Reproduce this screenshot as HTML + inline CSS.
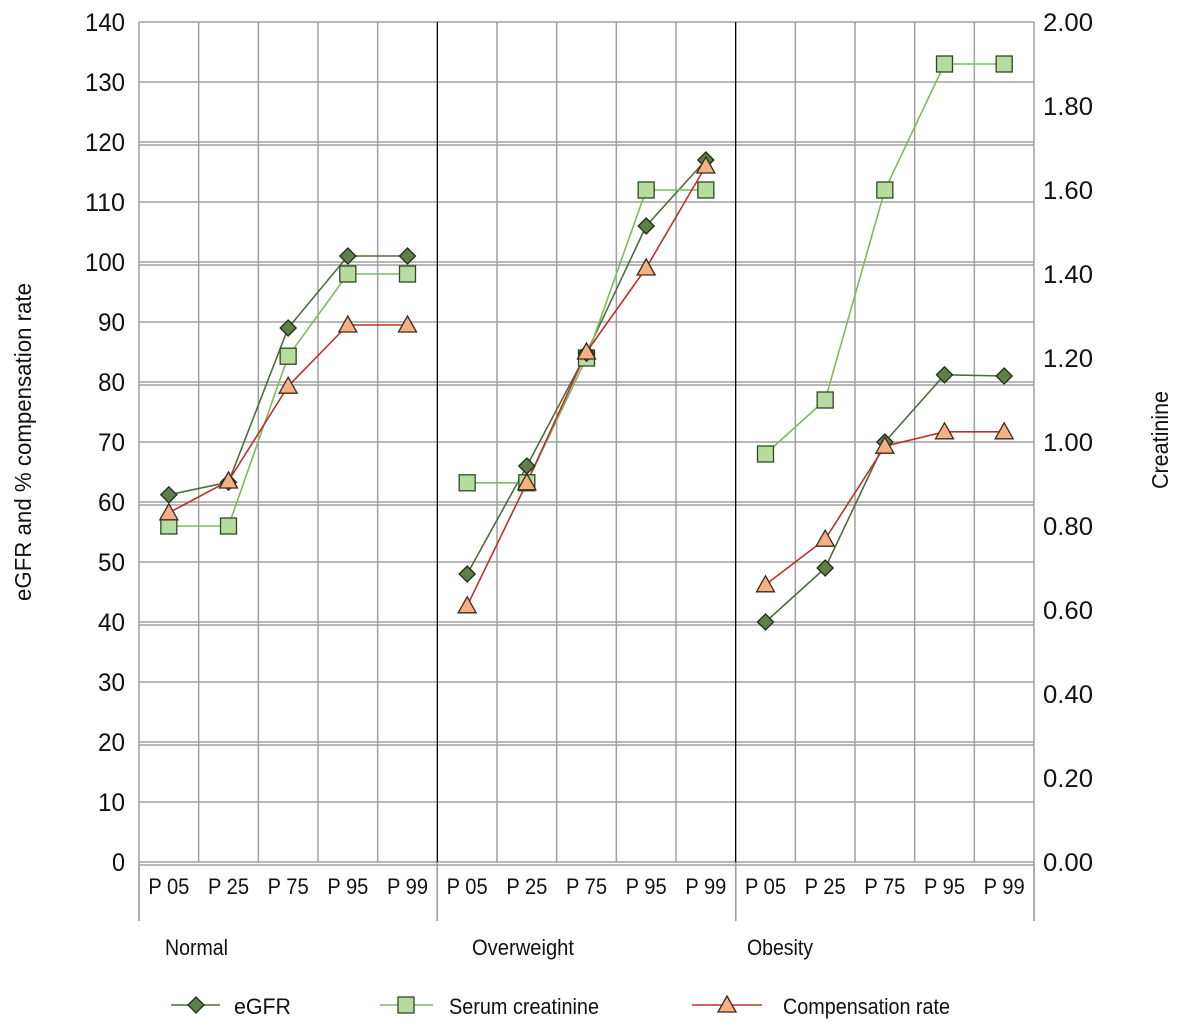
<!DOCTYPE html>
<html><head><meta charset="utf-8"><style>
body{margin:0;background:#fff}
svg text{font-family:"Liberation Sans Narrow","Liberation Sans",sans-serif;fill:#111}
</style></head><body>
<svg id="s" width="1181" height="1024" viewBox="0 0 1181 1024" xmlns="http://www.w3.org/2000/svg">
<g id="grid" stroke="#a0a0a0" stroke-width="1.5"></g>
<g font-size="25" text-anchor="end" lengthAdjust="spacingAndGlyphs">
<text x="125" y="31" textLength="40" lengthAdjust="spacingAndGlyphs">140</text><text x="125" y="91" textLength="40" lengthAdjust="spacingAndGlyphs">130</text><text x="125" y="151" textLength="40" lengthAdjust="spacingAndGlyphs">120</text><text x="125" y="211" textLength="40" lengthAdjust="spacingAndGlyphs">110</text><text x="125" y="271" textLength="40" lengthAdjust="spacingAndGlyphs">100</text><text x="125" y="331" textLength="27" lengthAdjust="spacingAndGlyphs">90</text><text x="125" y="391" textLength="27" lengthAdjust="spacingAndGlyphs">80</text><text x="125" y="451" textLength="27" lengthAdjust="spacingAndGlyphs">70</text><text x="125" y="511" textLength="27" lengthAdjust="spacingAndGlyphs">60</text><text x="125" y="571" textLength="27" lengthAdjust="spacingAndGlyphs">50</text><text x="125" y="631" textLength="27" lengthAdjust="spacingAndGlyphs">40</text><text x="125" y="691" textLength="27" lengthAdjust="spacingAndGlyphs">30</text><text x="125" y="751" textLength="27" lengthAdjust="spacingAndGlyphs">20</text><text x="125" y="811" textLength="27" lengthAdjust="spacingAndGlyphs">10</text><text x="125" y="871" textLength="13" lengthAdjust="spacingAndGlyphs">0</text>
</g>
<g font-size="25" text-anchor="start">
<text x="1043" y="31" textLength="50" lengthAdjust="spacingAndGlyphs">2.00</text><text x="1043" y="115" textLength="50" lengthAdjust="spacingAndGlyphs">1.80</text><text x="1043" y="199" textLength="50" lengthAdjust="spacingAndGlyphs">1.60</text><text x="1043" y="283" textLength="50" lengthAdjust="spacingAndGlyphs">1.40</text><text x="1043" y="367" textLength="50" lengthAdjust="spacingAndGlyphs">1.20</text><text x="1043" y="451" textLength="50" lengthAdjust="spacingAndGlyphs">1.00</text><text x="1043" y="535" textLength="50" lengthAdjust="spacingAndGlyphs">0.80</text><text x="1043" y="619" textLength="50" lengthAdjust="spacingAndGlyphs">0.60</text><text x="1043" y="703" textLength="50" lengthAdjust="spacingAndGlyphs">0.40</text><text x="1043" y="787" textLength="50" lengthAdjust="spacingAndGlyphs">0.20</text><text x="1043" y="871" textLength="50" lengthAdjust="spacingAndGlyphs">0.00</text>
</g>
<text font-size="23" transform="translate(31,442) rotate(-90)" text-anchor="middle" textLength="318" lengthAdjust="spacingAndGlyphs">eGFR and % compensation rate</text>
<text font-size="23" transform="translate(1168,440) rotate(-90)" text-anchor="middle" textLength="98" lengthAdjust="spacingAndGlyphs">Creatinine</text>
<g id="xl" font-size="22" text-anchor="middle"></g>
<g font-size="22">
<text x="165" y="955" textLength="63" lengthAdjust="spacingAndGlyphs">Normal</text><text x="472" y="955" textLength="102" lengthAdjust="spacingAndGlyphs">Overweight</text><text x="747" y="955" textLength="66" lengthAdjust="spacingAndGlyphs">Obesity</text>
<text x="234" y="1014" textLength="57" lengthAdjust="spacingAndGlyphs">eGFR</text><text x="449" y="1014" textLength="150" lengthAdjust="spacingAndGlyphs">Serum creatinine</text><text x="783" y="1014" textLength="167" lengthAdjust="spacingAndGlyphs">Compensation rate</text>
</g>
<g id="d"></g>
</svg>
<script>
const NS="http://www.w3.org/2000/svg",g=document.getElementById('grid'),d=document.getElementById('d'),xl=document.getElementById('xl');
function el(p,t,a){const e=document.createElementNS(NS,t);for(const k in a)e.setAttribute(k,a[k]);p.appendChild(e);return e}
const L=139,R=1034,W=(R-L)/15,Y=v=>862-6*v;
for(let v=0;v<=140;v+=10){el(g,'line',{x1:L,x2:R,y1:Y(v),y2:Y(v)});if(v%20==0&&v<140)el(g,'line',{x1:L,x2:R,y1:Y(v)+3,y2:Y(v)+3})}
for(let i=0;i<=15;i++){const x=L+W*i;const sep=i%5==0;el(g,'line',{x1:x,x2:x,y1:22,y2:sep?921:862,stroke:(sep&&i>0&&i<15)?'#000':'#a0a0a0','stroke-width':sep&&i>0&&i<15?1.3:1.5});
if(sep)el(g,'line',{x1:x,x2:x,y1:862,y2:921})}
const labs=['P 05','P 25','P 75','P 95','P 99'];
const cx=i=>L+W*(i+0.5);
for(let i=0;i<15;i++){const t=el(xl,'text',{x:cx(i),y:894,textLength:41,lengthAdjust:'spacingAndGlyphs'});t.textContent=labs[i%5]}
const eg=[[61.2,63.3,89,101,101],[48,66,84.8,106,117],[40,49,70,81.2,81]];
const cr=[[56,56,84.3,98,98],[63.2,63.2,84,112,112],[68,77,112,133,133]];
const cp=[[58.2,63.5,79.3,89.5,89.5],[42.7,63.2,85,99,116],[46.2,53.8,69.3,71.7,71.7]];
function line(data,c){for(let gi=0;gi<3;gi++){el(d,'polyline',{points:data[gi].map((v,j)=>cx(gi*5+j)+','+Y(v)).join(' '),fill:'none',stroke:c,'stroke-width':1.6})}}
line(eg,'#4d6e3c');line(cr,'#7dbb5c');line(cp,'#c0302a');
function dia(x,y){el(d,'polygon',{points:`${x},${y-8} ${x+8},${y} ${x},${y+8} ${x-8},${y}`,fill:'#5f804a',stroke:'#1e2e14','stroke-width':1.3})}
function sq(x,y){el(d,'rect',{x:x-8,y:y-8,width:16,height:16,fill:'#b8dba0',stroke:'#2e4a24','stroke-width':1.3})}
function tri(x,y){el(d,'polygon',{points:`${x},${y-9} ${x+9},${y+7} ${x-9},${y+7}`,fill:'#f5b183',stroke:'#3a2a20','stroke-width':1.3})}
for(let gi=0;gi<3;gi++)for(let j=0;j<5;j++){const x=cx(gi*5+j);sq(x,Y(cr[gi][j]));dia(x,Y(eg[gi][j]));tri(x,Y(cp[gi][j]))}
el(d,'line',{x1:171,x2:220,y1:1005,y2:1005,stroke:'#4d6e3c','stroke-width':1.6});dia(196,1005);
el(d,'line',{x1:380,x2:433,y1:1005,y2:1005,stroke:'#7dbb5c','stroke-width':1.6});sq(406,1005);
el(d,'line',{x1:692,x2:762,y1:1005,y2:1005,stroke:'#c0302a','stroke-width':1.6});tri(727,1005);
</script>
</body></html>
